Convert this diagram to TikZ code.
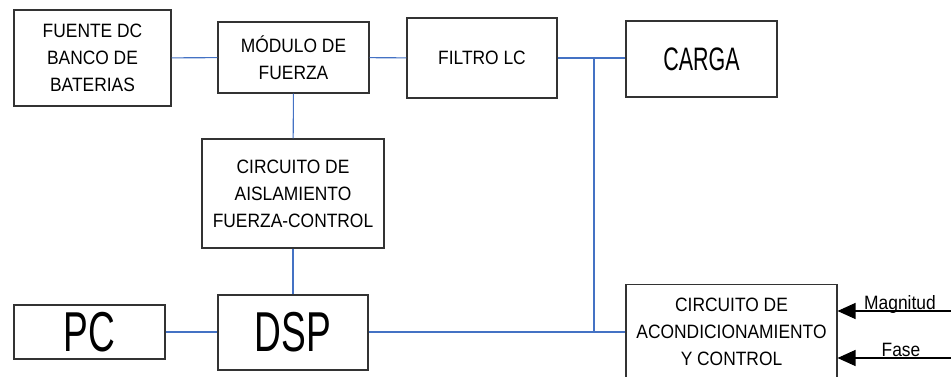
\documentclass[tikz,border=0pt]{standalone}
\usepackage{fontspec}
\setmainfont{Liberation Sans}
\newfontfamily\narrowfont[FakeStretch=0.9]{Liberation Sans}
\newfontfamily\condfont[FakeStretch=0.66]{Liberation Sans}
\usetikzlibrary{arrows.meta}
\definecolor{wirecol}{RGB}{68,114,196}
\definecolor{boxline}{gray}{0.2}
\tikzset{
  blk/.style={draw=boxline,line width=0.6pt,rectangle,inner sep=0pt,align=center,
    font=\narrowfont\fontsize{11}{15.4}\selectfont},
  big/.style={font=\condfont\fontsize{32}{34}\selectfont},
  mid/.style={font=\condfont\fontsize{18.5}{20}\selectfont},
  wire/.style={draw=wirecol,line width=0.6pt},
  sig/.style={draw=black,line width=0.6pt,-{Triangle[length=0.36cm,width=0.32cm]}},
  siglab/.style={font=\narrowfont\fontsize{11}{13}\selectfont,anchor=base,inner sep=0pt},
}
\begin{document}
\begin{tikzpicture}[x=0.02cm,y=-0.02cm]
  \useasboundingbox (0,0) rectangle (951,376);
  \node[blk,minimum width=3.14cm,minimum height=1.92cm] (fuente) at (92.5,58) {FUENTE DC\\BANCO DE\\BATERIAS};
  \node[blk,minimum width=3.02cm,minimum height=1.42cm] (modulo) at (293.5,57.5) {MÓDULO DE\\FUERZA};
  \node[blk,minimum width=3.00cm,minimum height=1.60cm] (filtro) at (482,58) {FILTRO LC};
  \node[blk,mid,minimum width=3.02cm,minimum height=1.52cm] (carga) at (701.5,59) {CARGA};
  \node[blk,minimum width=3.64cm,minimum height=2.18cm] (aislam) at (293,193.5) {CIRCUITO DE\\AISLAMIENTO\\FUERZA-CONTROL};
  \node[blk,big,minimum width=3.00cm,minimum height=1.50cm] (dsp) at (293,332.5) {DSP};
  \node[blk,big,minimum width=3.02cm,minimum height=1.08cm] (pc) at (89.5,332) {PC};
  \node[blk,minimum width=4.22cm,minimum height=1.90cm] (acond) at (731.5,332) {CIRCUITO DE\\ACONDICIONAMIENTO\\Y CONTROL};
  \coordinate (junta) at (594,58);
  \coordinate (magin) at (951,311);
  \coordinate (fasein) at (951,358);
  \draw[wire] (fuente) -- (modulo);
  \draw[wire] (modulo) -- (filtro);
  \draw[wire] (filtro.east |- junta) -- (carga.west |- junta);
  \draw[wire] (modulo) -- (aislam);
  \draw[wire] (aislam) -- (dsp);
  \draw[wire] (pc) -- (pc -| dsp.west);
  \draw[wire] (dsp.east |- pc) -- (acond.west |- pc);
  \draw[wire] (junta) -- (junta |- pc);
  \draw[sig] (magin) -- (acond.east |- magin);
  \draw[sig] (fasein) -- (acond.east |- fasein);
  \node[siglab] (maglab) at (900,309.5) {Magnitud};
  \node[siglab] (faselab) at (901,356.5) {Fase};
\end{tikzpicture}
\end{document}
